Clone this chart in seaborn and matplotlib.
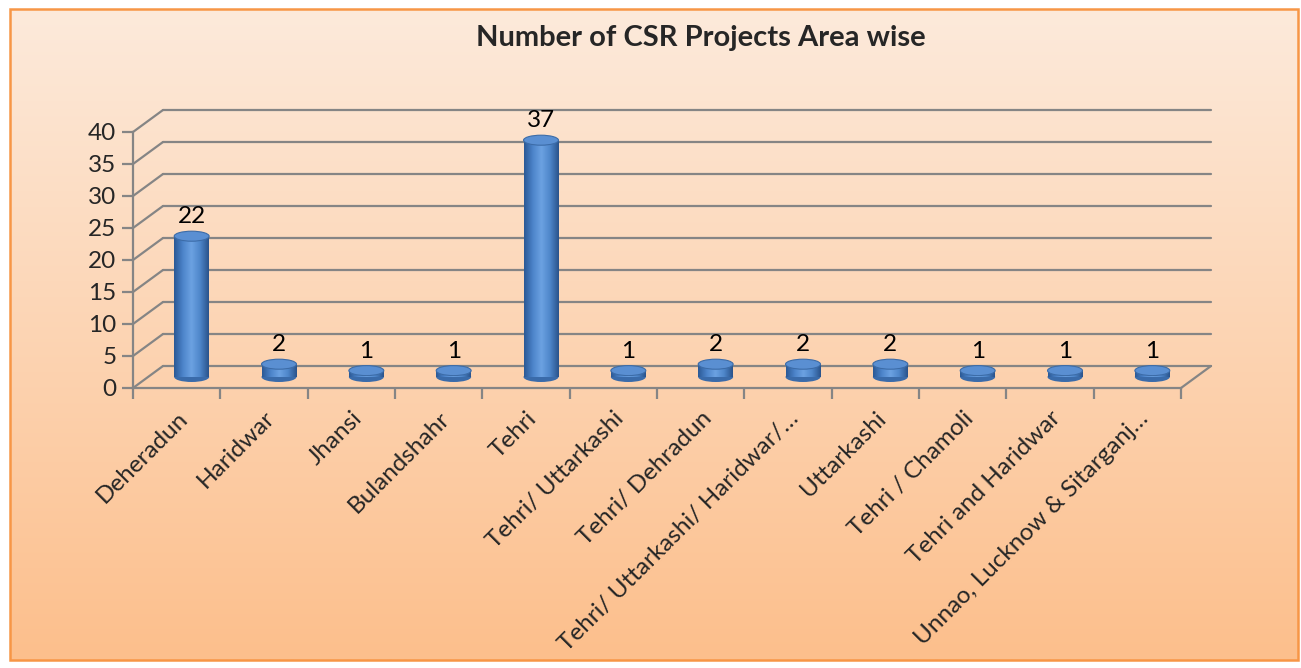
import matplotlib

matplotlib.use("Agg")
import numpy as np
import seaborn as sns
from matplotlib import pyplot as plt
from matplotlib.colors import LinearSegmentedColormap, to_rgb
from matplotlib.patches import Ellipse, Rectangle
from matplotlib.transforms import ScaledTranslation

areas = [
    "Deheradun",
    "Haridwar",
    "Jhansi",
    "Bulandshahr",
    "Tehri",
    "Tehri/ Uttarkashi",
    "Tehri/ Dehradun",
    "Tehri/ Uttarkashi/ Haridwar/…",
    "Uttarkashi",
    "Tehri / Chamoli",
    "Tehri and Haridwar",
    "Unnao, Lucknow & Sitarganj…",
]
projects = [22, 2, 1, 1, 37, 1, 2, 2, 2, 1, 1, 1]
y_ticks = [0, 5, 10, 15, 20, 25, 30, 35, 40]
title = "Number of CSR Projects Area wise"

W, H, DPI = 1301, 668, 100
GRID = "#858585"
FONT = ["Lato", "DejaVu Sans"]

sns.set_theme(style="white")
plt.rcParams["font.family"] = FONT

fig = plt.figure(figsize=(W / DPI, H / DPI), dpi=DPI)
fig.patch.set_facecolor("white")

# gradient background inside orange frame
bg = fig.add_axes([0, 0, 1, 1], zorder=-5)
bg.set_axis_off()
bx0, by0, bw, bh = 10 / W, (H - 660) / H, 1288 / W, 651 / H
top_c, bot_c = np.array(to_rgb("#FDEADB")), np.array(to_rgb("#FCBF8C"))
t = np.linspace(0, 1, 256)[:, None]
grad = (top_c * (1 - t) + bot_c * t)[:, None, :].repeat(2, axis=1)
bg.imshow(grad, extent=[bx0, bx0 + bw, by0, by0 + bh], aspect="auto", origin="upper")
bg.set_xlim(0, 1)
bg.set_ylim(0, 1)
bg.add_patch(Rectangle((bx0, by0), bw, bh, fill=False, ec="#F79646", lw=1.8))

# front plane of the pseudo-3D chart
left, right, top, bottom = 133, 1181, 132, 388
ax = fig.add_axes([left / W, (H - bottom) / H, (right - left) / W, (bottom - top) / H])
ax.set_facecolor("none")

sns.barplot(x=areas, y=projects, ax=ax, color="#4F81BD", width=0.4, saturation=1, zorder=3)
ax.set_xlim(-0.5, len(areas) - 0.5)
ax.set_ylim(0, 40)

# depth offset in data units (30px right, 22px up)
px_x = (right - left) / len(areas)
px_y = (bottom - top) / 40
ddx, ddy = 30 / px_x, 22 / px_y

x0, x1 = -0.5, len(areas) - 0.5
for v in y_ticks:
    ax.plot([x0, x0 + ddx], [v, v + ddy], color=GRID, lw=1.6, clip_on=False, zorder=1)
    ax.plot([x0 + ddx, x1 + ddx], [v + ddy, v + ddy], color=GRID, lw=1.6, clip_on=False, zorder=1)
ax.plot([x1, x1 + ddx], [0, ddy], color=GRID, lw=1.6, clip_on=False, zorder=1)

for s in ["top", "right"]:
    ax.spines[s].set_visible(False)
for s in ["left", "bottom"]:
    ax.spines[s].set_color(GRID)
    ax.spines[s].set_linewidth(1.6)

# cylinders
shade = LinearSegmentedColormap.from_list(
    "cyl", ["#2C5A96", "#4C84CA", "#6CA2E2", "#4E86CA", "#2A548C"]
)
cap_h = 10 / px_y
for patch, val in zip(ax.patches, projects):
    patch.set_x(patch.get_x() + ddx / 2)
    patch.set_y(ddy / 2)
    patch.set_edgecolor("none")
    px0, pw = patch.get_x(), patch.get_width()
    cx = px0 + pw / 2
    base, topv = ddy / 2, ddy / 2 + val
    ax.add_patch(Ellipse((cx, base), pw, cap_h, fc="#3A6BAA", ec="none", zorder=2.9, clip_on=False))
    img = ax.imshow(
        np.linspace(0, 1, 64)[None, :],
        cmap=shade,
        extent=[px0, px0 + pw, base, topv],
        aspect="auto",
        zorder=3.1,
    )
    img.set_clip_path(patch)
    ax.add_patch(Ellipse((cx, topv), pw, cap_h, fc="#5A8FD2", ec="#3C6CA8", lw=0.8, zorder=4, clip_on=False))
    ax.text(cx, topv + cap_h / 2 + 0.6, str(val), ha="center", va="bottom", fontsize=17.5, color="black", zorder=5)

ax.set_xlim(-0.5, len(areas) - 0.5)
ax.set_ylim(0, 40)

ax.set_yticks(y_ticks)
ax.tick_params(axis="y", length=8, width=1.6, color=GRID, direction="out", labelsize=17.5, pad=4, left=True)
ax.set_xticks(range(len(areas)))
ax.set_xticklabels(areas, rotation=45, ha="right", rotation_mode="anchor", fontsize=17.5)
ax.set_xticks(np.arange(-0.5, len(areas), 1), minor=True)
ax.tick_params(axis="x", which="major", length=0, pad=14)
ax.tick_params(axis="x", which="minor", length=8, width=1.6, color=GRID, direction="out", bottom=True)
shift = ScaledTranslation(0, 0, fig.dpi_scale_trans)
for lab in ax.get_xticklabels():
    lab.set_transform(lab.get_transform() + shift)
ax.set_xlabel("")
ax.set_ylabel("")

fig.text(0.539, (H - 38) / H, title, ha="center", va="center", fontsize=21, fontweight="bold")

fig.savefig("out.png", dpi=DPI)
